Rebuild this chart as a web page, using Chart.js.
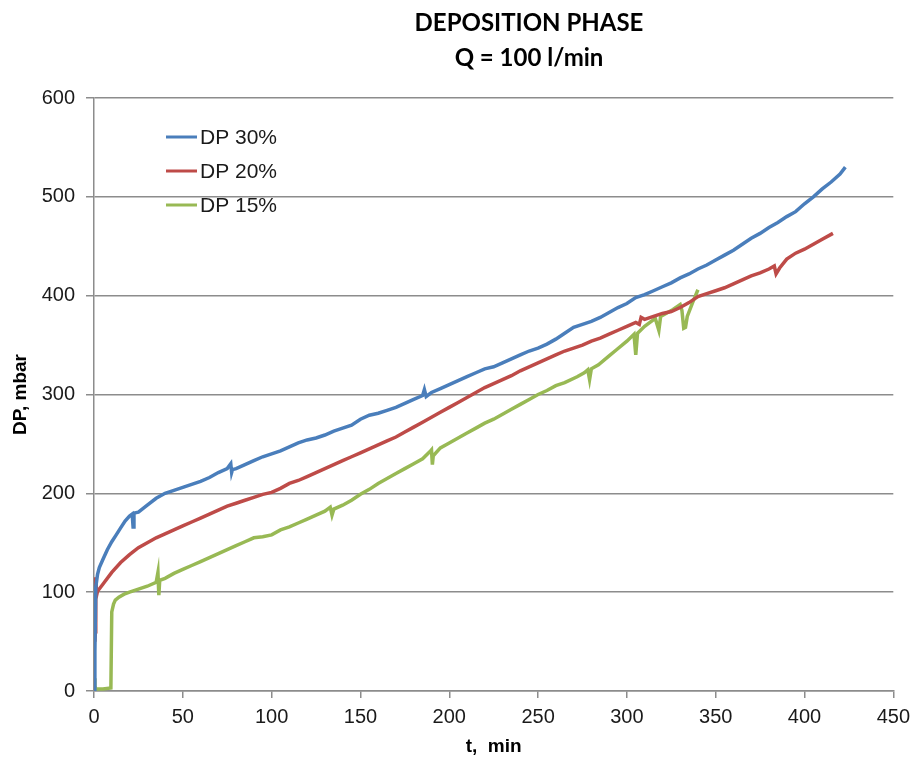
<!DOCTYPE html>
<html>
<head>
<meta charset="utf-8">
<script src="https://cdn.jsdelivr.net/npm/chart.js@4.4.1/dist/chart.umd.min.js"></script>
<style>
  body { margin: 0; background: #fff; }
  canvas { display: block; }
</style>
</head>
<body>
<canvas id="chart" width="917" height="758"></canvas>
<script>
// DP 30% - time (min) and pressure drop (mbar)
const t30 = [0, 0.5, 1, 2, 3, 5, 7.5, 10, 12.5, 15, 17.5, 20, 21.5, 22, 22.5, 25, 30, 35, 40, 45, 50, 55, 60, 65, 70, 75, 77, 77.5, 78, 80, 85, 90, 95, 100, 105, 110, 115, 120, 125, 130, 135, 140, 145, 150, 155, 160, 165, 170, 175, 180, 185, 186, 187, 190, 195, 200, 205, 210, 215, 220, 225, 230, 235, 240, 245, 250, 255, 260, 265, 270, 275, 280, 285, 290, 295, 300, 305, 310, 315, 320, 325, 330, 335, 340, 345, 350, 355, 360, 365, 370, 375, 380, 385, 390, 395, 400, 405, 410, 415, 420, 423];
const dp30 = [0, 40, 105, 118, 125, 133, 143, 151, 158, 165, 172, 177, 179, 166, 180, 181, 188, 195, 200, 203, 206, 209, 212, 216, 221, 225, 230, 221, 224, 225, 229, 233, 237, 240, 243, 247, 251, 254, 256, 259, 263, 266, 269, 275, 279, 281, 284, 287, 291, 295, 299, 305, 298, 302, 306, 310, 314, 318, 322, 326, 328, 332, 336, 340, 344, 347, 351, 356, 362, 368, 371, 374, 378, 383, 388, 392, 398, 401, 405, 409, 413, 418, 422, 427, 431, 436, 441, 446, 452, 458, 463, 469, 474, 480, 485, 493, 500, 508, 515, 523, 530];

// DP 20%
const t20 = [0.5, 0.8, 1, 1.5, 2, 5, 10, 15, 20, 25, 30, 35, 40, 45, 50, 55, 60, 65, 70, 75, 80, 85, 90, 95, 100, 105, 110, 115, 120, 125, 130, 135, 140, 145, 150, 155, 160, 165, 170, 175, 180, 185, 190, 195, 200, 205, 210, 215, 220, 225, 230, 235, 240, 245, 250, 255, 260, 265, 270, 275, 280, 285, 290, 295, 300, 305, 307, 308, 310, 315, 320, 325, 330, 335, 340, 345, 350, 355, 360, 365, 370, 375, 380, 383, 384, 386, 390, 395, 400, 405, 410, 415, 416];
const dp20 = [50, 60, 115, 97, 101, 108, 120, 130, 138, 145, 150, 155, 159, 163, 167, 171, 175, 179, 183, 187, 190, 193, 196, 199, 201, 205, 210, 213, 217, 221, 225, 229, 233, 237, 241, 245, 249, 253, 257, 262, 267, 272, 277, 282, 287, 292, 297, 302, 307, 311, 315, 319, 324, 328, 332, 336, 340, 344, 347, 350, 354, 357, 361, 365, 369, 373, 371, 378, 376, 379, 382, 384, 388, 393, 399, 402, 405, 408, 412, 416, 420, 423, 427, 430, 422, 428, 437, 443, 447, 452, 457, 462, 463];

// DP 15%
const t15 = [0, 0.5, 1, 5, 9.5, 10, 11, 12, 14, 17, 20, 25, 30, 35, 36, 36.5, 37, 40, 45, 50, 55, 60, 65, 70, 75, 80, 85, 90, 95, 100, 105, 110, 115, 120, 125, 130, 133, 134, 135, 140, 145, 150, 155, 160, 165, 170, 175, 180, 185, 189, 190, 190.5, 191, 195, 200, 205, 210, 215, 220, 225, 230, 235, 240, 245, 250, 255, 260, 265, 272, 276, 278, 279, 280, 284, 290, 294, 300, 304, 305, 306, 310, 313, 316, 318, 319, 322, 326, 330, 331, 332, 333, 334, 337, 340];
const dp15 = [13, 5, 2, 2, 3, 80, 88, 92, 95, 98, 100, 103, 106, 110, 120, 97, 112, 114, 119, 123, 127, 131, 135, 139, 143, 147, 151, 155, 156, 158, 163, 166, 170, 174, 178, 182, 186, 178, 184, 188, 193, 199, 204, 210, 215, 220, 225, 230, 235, 242, 244, 229, 238, 246, 251, 256, 261, 266, 271, 275, 280, 285, 290, 295, 300, 304, 309, 312, 318, 322, 325, 315, 326, 330, 339, 345, 354, 361, 340, 362, 369, 373, 377, 365, 379, 382, 386, 391, 385, 367, 368, 379, 393, 406];

const seriesLabels = ['DP 30%', 'DP 20%', 'DP 15%'];
const seriesColors = ['#4a7ebb', '#be4b48', '#98b954'];
const xTicks = [0, 50, 100, 150, 200, 250, 300, 350, 400, 450];
const yTicks = [0, 100, 200, 300, 400, 500, 600];

function pts(ts, vs) {
  return ts.map((t, i) => ({ x: t, y: vs[i] }));
}

const gridGray = '#8c8c8c';
const textDark = '#1a1a1a';

// title and in-plot legend, drawn on the canvas
const decorations = {
  id: 'decorations',
  afterDraw(chart) {
    const ctx = chart.ctx;
    const area = chart.chartArea;
    ctx.save();
    ctx.fillStyle = '#000';
    ctx.textAlign = 'center';
    ctx.textBaseline = 'middle';
    ctx.font = 'bold 24px Lato';
    ctx.fillText('DEPOSITION PHASE', 529, 23);
    ctx.fillText('Q = 100 l/min', 529, 58);

    ctx.textAlign = 'left';
    ctx.font = '21px "Liberation Sans"';
    chart.data.datasets.forEach((ds, i) => {
      const y = area.top + 39 + i * 34;
      ctx.strokeStyle = ds.borderColor;
      ctx.lineWidth = 3;
      ctx.beginPath();
      ctx.moveTo(area.left + 72, y);
      ctx.lineTo(area.left + 103, y);
      ctx.stroke();
      ctx.fillStyle = textDark;
      ctx.fillText(ds.label, area.left + 106, y + 1);
    });
    ctx.restore();
  }
};

new Chart(document.getElementById('chart'), {
  type: 'line',
  data: {
    datasets: [
      { label: seriesLabels[0], data: pts(t30, dp30), borderColor: seriesColors[0] },
      { label: seriesLabels[1], data: pts(t20, dp20), borderColor: seriesColors[1] },
      { label: seriesLabels[2], data: pts(t15, dp15), borderColor: seriesColors[2] }
    ]
  },
  options: {
    responsive: false,
    animation: false,
    layout: { padding: { top: 98, right: 20, bottom: 0, left: 0 } },
    elements: {
      line: { borderWidth: 3.5, tension: 0, fill: false },
      point: { radius: 0 }
    },
    plugins: {
      legend: { display: false },
      title: { display: false },
      tooltip: { enabled: false }
    },
    scales: {
      x: {
        type: 'linear',
        min: 0,
        max: 450,
        afterBuildTicks: (s) => { s.ticks = xTicks.map(v => ({ value: v })); },
        afterFit: (s) => { s.height = 67; },
        ticks: { color: textDark, font: { family: 'Liberation Sans', size: 20 }, padding: 7, maxRotation: 0 },
        grid: { drawOnChartArea: false, tickLength: 7, color: gridGray, lineWidth: 1.5 },
        border: { color: gridGray, width: 1.5 },
        title: { display: true, text: 't,  min', color: '#000', font: { family: 'Liberation Sans', size: 19, weight: 'bold' }, padding: { top: 0, bottom: 0 } }
      },
      y: {
        min: 0,
        max: 600,
        afterBuildTicks: (s) => { s.ticks = yTicks.map(v => ({ value: v })); },
        afterFit: (s) => { s.width = 94; },
        ticks: { color: textDark, font: { family: 'Liberation Sans', size: 20 }, padding: 11 },
        grid: { color: gridGray, lineWidth: 1.5, tickLength: 8 },
        border: { color: gridGray, width: 1.5 },
        title: { display: true, text: 'DP, mbar', color: '#000', font: { family: 'Liberation Sans', size: 19, weight: 'bold' }, padding: { top: 9, bottom: 0 } }
      }
    }
  },
  plugins: [decorations]
});
</script>
</body>
</html>
